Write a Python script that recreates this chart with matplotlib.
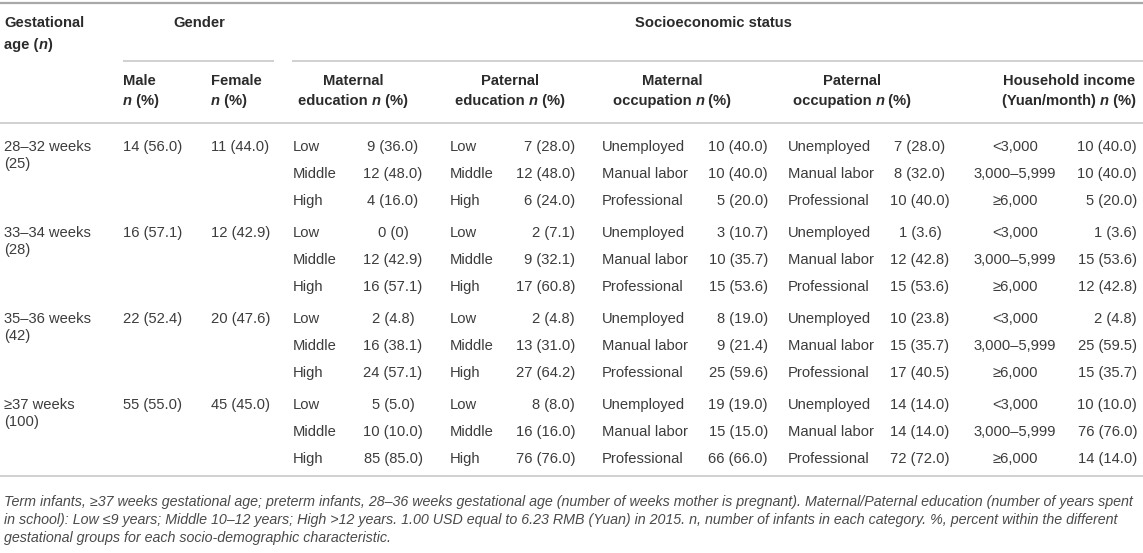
import matplotlib
matplotlib.use('Agg')
import matplotlib.pyplot as plt

plt.rcParams['font.family'] = ['Liberation Sans', 'DejaVu Sans']

# Table data
groups = ['28–32 weeks', '33–34 weeks', '35–36 weeks', '≥37 weeks']
group_n = [25, 28, 42, 100]

male_n = [14, 16, 22, 55]
male_pct = [56.0, 57.1, 52.4, 55.0]
female_n = [11, 12, 20, 45]
female_pct = [44.0, 42.9, 47.6, 45.0]

edu_levels = ['Low', 'Middle', 'High']
occ_levels = ['Unemployed', 'Manual labor', 'Professional']
income_levels = ['<3,000', '3,000–5,999', '≥6,000']

mat_edu_n = [[9, 12, 4], [0, 12, 16], [2, 16, 24], [5, 10, 85]]
mat_edu_pct = [[36.0, 48.0, 16.0], [0, 42.9, 57.1], [4.8, 38.1, 57.1], [5.0, 10.0, 85.0]]
pat_edu_n = [[7, 12, 6], [2, 9, 17], [2, 13, 27], [8, 16, 76]]
pat_edu_pct = [[28.0, 48.0, 24.0], [7.1, 32.1, 60.8], [4.8, 31.0, 64.2], [8.0, 16.0, 76.0]]
mat_occ_n = [[10, 10, 5], [3, 10, 15], [8, 9, 25], [19, 15, 66]]
mat_occ_pct = [[40.0, 40.0, 20.0], [10.7, 35.7, 53.6], [19.0, 21.4, 59.6], [19.0, 15.0, 66.0]]
pat_occ_n = [[7, 8, 10], [1, 12, 15], [10, 15, 17], [14, 14, 72]]
pat_occ_pct = [[28.0, 32.0, 40.0], [3.6, 42.8, 53.6], [23.8, 35.7, 40.5], [14.0, 14.0, 72.0]]
income_n = [[10, 10, 5], [1, 15, 12], [2, 25, 15], [10, 76, 14]]
income_pct = [[40.0, 40.0, 20.0], [3.6, 53.6, 42.8], [4.8, 59.5, 35.7], [10.0, 76.0, 14.0]]

footnote = [
    'Term infants, ≥37 weeks gestational age; preterm infants, 28–36 weeks gestational age '
    '(number of weeks mother is pregnant). Maternal/Paternal education (number of years spent',
    'in school): Low ≤9 years; Middle 10–12 years; High >12 years. 1.00 USD equal to 6.23 RMB '
    '(Yuan) in 2015. n, number of infants in each category. %, percent within the different',
    'gestational groups for each socio-demographic characteristic.',
]

W, H = 1143, 553
FS = 10.6
TXT = '#3c3c3c'
HDR = '#2b2b2b'


def fmt(n, p):
    if p == 0:
        return f'{n} (0)'
    return f'{n} ({p:.1f})'


fig = plt.figure(figsize=(W / 100, H / 100), dpi=100)
ax = fig.add_axes([0, 0, 1, 1])
ax.set_xlim(0, W)
ax.set_ylim(H, 0)
ax.axis('off')
renderer = fig.canvas.get_renderer()


def rich(x, y, parts, ha='left'):
    # place bold pieces side by side, some of them italic
    items = []
    for s, style in parts:
        t = ax.text(0, y, s, fontsize=FS, fontweight='bold', fontstyle=style,
                    color=HDR, va='center', ha='left')
        items.append((t, t.get_window_extent(renderer).width))
    total = sum(w for _, w in items)
    cur = x - total / 2 if ha == 'center' else x
    for t, w in items:
        t.set_x(cur)
        cur += w


def hline(y, x0, x1, lw=1.1, color='#c4c4c4'):
    ax.plot([x0, x1], [y, y], color=color, lw=lw, solid_capstyle='butt')


# rules
hline(3, 0, W, lw=1.6, color='#a8a8a8')
hline(61, 123, 274)
hline(61, 292, W)
hline(123, 0, W)
hline(476, 0, W)

# header
rich(4, 23, [('Gestational', 'normal')])
rich(4, 45, [('age (', 'normal'), ('n', 'italic'), (')', 'normal')])
rich(199, 23, [('Gender', 'normal')], ha='center')
rich(713, 23, [('Socioeconomic status', 'normal')], ha='center')

rich(123, 81, [('Male', 'normal')])
rich(123, 101, [('n', 'italic'), (' (%)', 'normal')])
rich(211, 81, [('Female', 'normal')])
rich(211, 101, [('n', 'italic'), (' (%)', 'normal')])
sub = [(353, 'Maternal', 'education '), (510, 'Paternal', 'education '),
       (672, 'Maternal', 'occupation '), (852, 'Paternal', 'occupation ')]
for cx, top, bottom in sub:
    rich(cx, 81, [(top, 'normal')], ha='center')
    rich(cx, 101, [(bottom, 'normal'), ('n', 'italic'), (' (%)', 'normal')], ha='center')
rich(1069, 81, [('Household income', 'normal')], ha='center')
rich(1069, 101, [('(Yuan/month) ', 'normal'), ('n', 'italic'), (' (%)', 'normal')], ha='center')

# body
def cell(x, y, s, ha='left'):
    ax.text(x, y, s, fontsize=FS, color=TXT, va='center', ha=ha)


for g in range(len(groups)):
    y0 = 147 + 86 * g
    cell(4, y0, groups[g])
    cell(4, y0 + 17, f'({group_n[g]})')
    cell(123, y0, fmt(male_n[g], male_pct[g]))
    cell(211, y0, fmt(female_n[g], female_pct[g]))
    for r in range(3):
        y = y0 + 27 * r
        cell(293, y, edu_levels[r])
        cell(393, y, fmt(mat_edu_n[g][r], mat_edu_pct[g][r]), ha='center')
        cell(450, y, edu_levels[r])
        cell(575, y, fmt(pat_edu_n[g][r], pat_edu_pct[g][r]), ha='right')
        cell(602, y, occ_levels[r])
        cell(768, y, fmt(mat_occ_n[g][r], mat_occ_pct[g][r]), ha='right')
        cell(788, y, occ_levels[r])
        cell(920, y, fmt(pat_occ_n[g][r], pat_occ_pct[g][r]), ha='center')
        cell(1015, y, income_levels[r], ha='center')
        cell(1137, y, fmt(income_n[g][r], income_pct[g][r]), ha='right')

for i, line in enumerate(footnote):
    ax.text(4, 502 + 18 * i, line, fontsize=10.3, fontstyle='italic',
            color='#4a4a4a', va='center', ha='left')

fig.savefig('out.png', dpi=100)
